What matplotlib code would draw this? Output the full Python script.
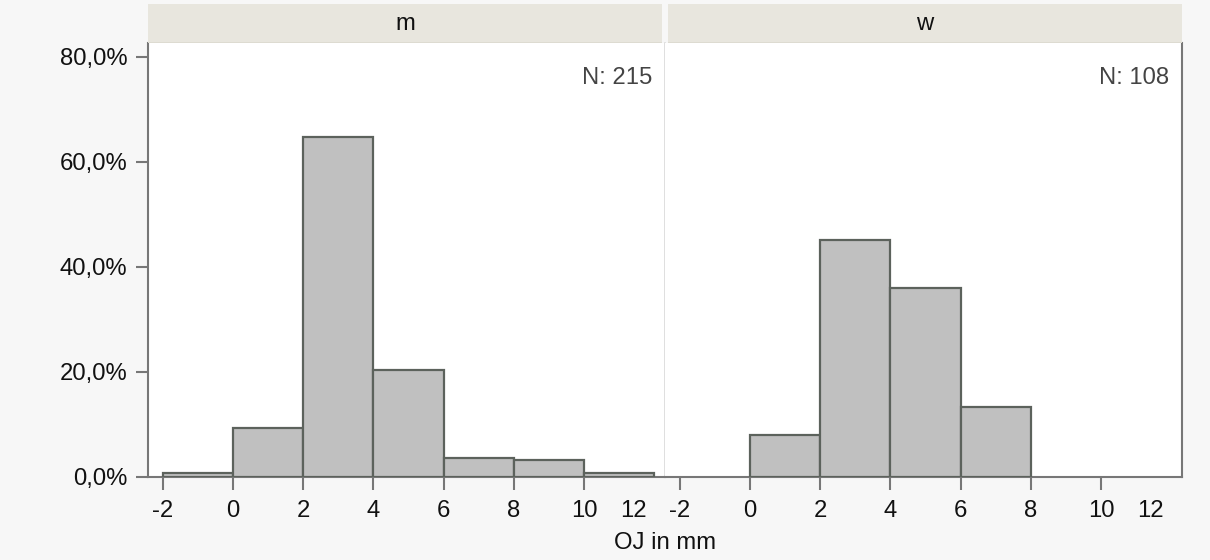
import matplotlib
matplotlib.use("Agg")
import matplotlib.pyplot as plt
import numpy as np

plt.rcParams['font.family'] = ['Liberation Sans', 'DejaVu Sans']

panels = ["m", "w"]
counts_n = [215, 108]
bin_edges = [-2, 0, 2, 4, 6, 8, 10, 12]
pct_m = [0.85, 9.3, 64.8, 20.4, 3.7, 3.3, 0.85]
pct_w = [0.0, 7.9, 45.1, 35.9, 13.4, 0.0, 0.0]
values = [pct_m, pct_w]
xticks = [-2, 0, 2, 4, 6, 8, 10]
yticks = [0, 20, 40, 60, 80]
xlabel = "OJ in mm"

W, H = 1210, 560
fig = plt.figure(figsize=(W / 100, H / 100), dpi=100, facecolor="#f7f7f7")

ax_left, ax_right, ax_bot, ax_top = 148, 1182, 477, 43
pw = (ax_right - ax_left) / 2
fs = 17.2
spine_c = "#777777"
edge_c = "#5c625c"

for i, (name, n, vals) in enumerate(zip(panels, counts_n, values)):
    x0 = ax_left + i * pw
    ax = fig.add_axes([x0 / W, 1 - ax_bot / H, pw / W, (ax_bot - ax_top) / H])
    ax.set_facecolor("white")
    lefts = np.array(bin_edges[:-1], dtype=float)
    widths = np.diff(bin_edges)
    v = np.array(vals)
    mask = v > 0
    ax.bar(lefts[mask], v[mask], width=widths[mask], align="edge",
           color="#c0c0c0", edgecolor=edge_c, linewidth=1.6, zorder=3)
    ax.set_xlim(-2.42, 12.3)
    ax.set_ylim(0, 82.6)
    ax.set_xticks(xticks + [11.4])
    ax.set_xticklabels([str(t) for t in xticks] + ["12"])
    ax.xaxis.get_major_ticks()[-1].tick1line.set_visible(False)
    ax.tick_params(axis="x", length=9.5, width=1.5, color=spine_c, labelsize=fs, pad=7,
                   labelcolor="#111111")
    if i == 0:
        ax.set_yticks(yticks)
        ax.set_yticklabels([f"{t:.1f}".replace(".", ",") + "%" for t in yticks])
        ax.tick_params(axis="y", length=9, width=1.5, color=spine_c, labelsize=fs, pad=6,
                       labelcolor="#111111")
    else:
        ax.set_yticks([])
    ax.spines["top"].set_visible(False)
    ax.spines["bottom"].set_color(spine_c)
    ax.spines["bottom"].set_linewidth(1.5)
    if i == 0:
        ax.spines["left"].set_color(spine_c)
        ax.spines["left"].set_linewidth(1.5)
        ax.spines["right"].set_color("#d9d9d9")
        ax.spines["right"].set_linewidth(1.2)
    else:
        ax.spines["left"].set_visible(False)
        ax.spines["right"].set_color(spine_c)
        ax.spines["right"].set_linewidth(1.5)
    ax.text(0.975, 0.92, f"N: {n}", transform=ax.transAxes, ha="right", va="center",
            fontsize=fs, color="#444444")
    # header strip
    hx0 = x0 + (3 if i == 1 else 0)
    hw = pw - 3
    hax = fig.add_axes([hx0 / W, 1 - ax_top / H, hw / W, (ax_top - 4) / H])
    hax.set_facecolor("#e8e6de")
    hax.set_xticks([]); hax.set_yticks([])
    for s in hax.spines.values():
        s.set_visible(False)
    hax.axhline(0, color="#dcdad0", lw=2)
    hax.text(0.5, 0.5, name, ha="center", va="center", fontsize=fs, color="#111111",
             transform=hax.transAxes)

fig.text(665 / W, 1 - 543 / H, xlabel, ha="center", va="center", fontsize=fs, color="#111111")

fig.savefig("out.png", dpi=100, facecolor=fig.get_facecolor())
